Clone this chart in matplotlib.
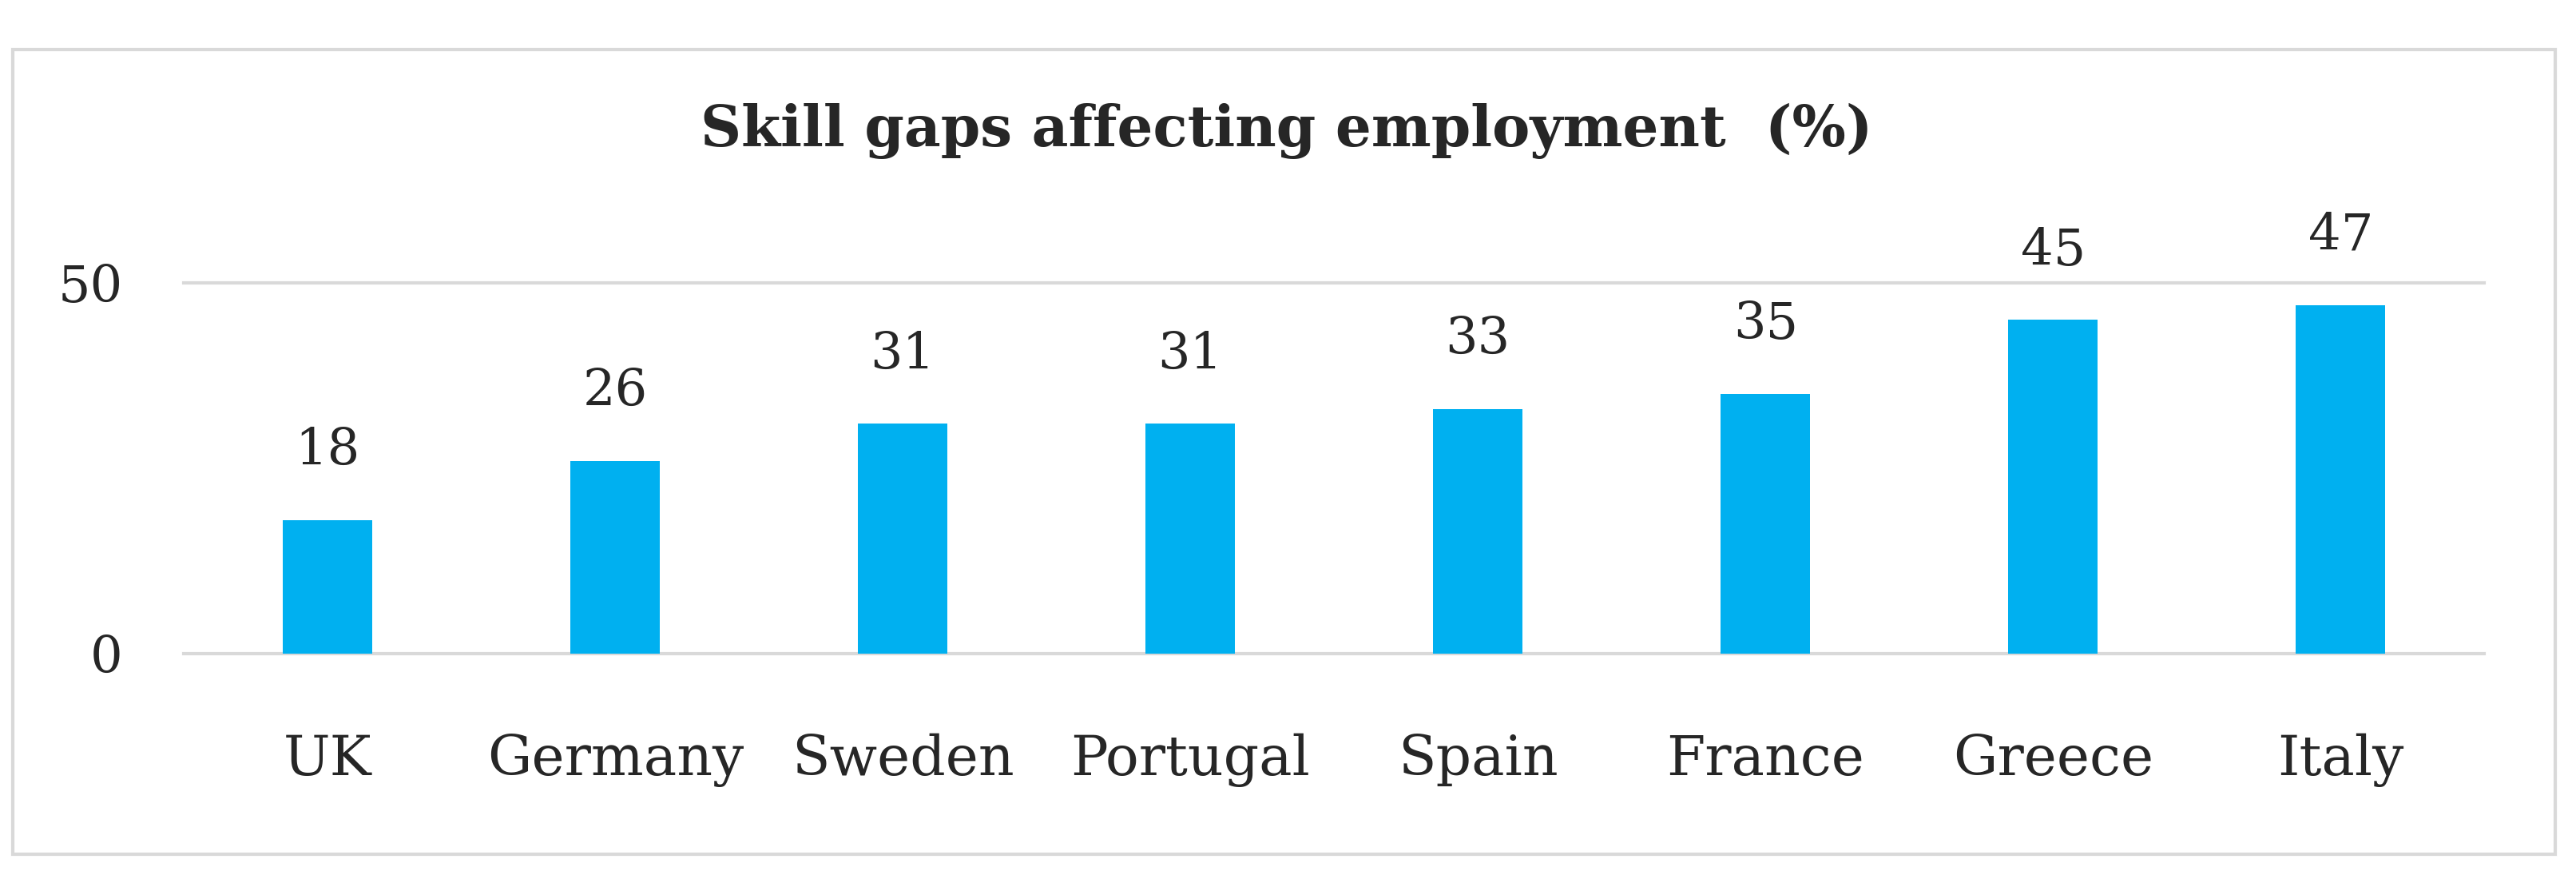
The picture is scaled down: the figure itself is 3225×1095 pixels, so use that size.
import matplotlib
matplotlib.use("Agg")
import matplotlib.pyplot as plt
from matplotlib.patches import Rectangle

countries = ["UK", "Germany", "Sweden", "Portugal", "Spain", "France", "Greece", "Italy"]
values = [18, 26, 31, 31, 33, 35, 45, 47]
yticks = [0, 50]
title = "Skill gaps affecting employment  (%)"

plt.rcParams['font.family'] = ['DejaVu Serif']
text_color = "#262626"
bar_color = "#00B0F0"
grid_color = "#D9D9D9"

fig = plt.figure(figsize=(32.25, 10.95), dpi=100)
fig.patch.set_facecolor("white")
fig.patches.append(Rectangle((0.005, 0.024), 0.987, 0.919, transform=fig.transFigure,
                             fill=False, edgecolor=grid_color, linewidth=3))

ax = fig.add_axes([0.0714, 0.253, 0.893, 0.424])
x = list(range(len(countries)))
ax.bar(x, values, width=0.31, color=bar_color, zorder=2)
ax.set_xlim(-0.5, len(countries) - 0.5)
ax.set_ylim(0, 50)
ax.set_yticks(yticks)
ax.set_yticklabels([str(t) for t in yticks])
ax.set_xticks(x)
ax.set_xticklabels(countries)
for t in yticks:
    ax.axhline(t, color=grid_color, linewidth=3, zorder=1, clip_on=False)
for s in ax.spines.values():
    s.set_visible(False)
ax.tick_params(axis='both', length=0, colors=text_color)
ax.tick_params(axis='x', pad=72, labelsize=50)
ax.tick_params(axis='y', pad=55, labelsize=46)

for xi, v in zip(x, values):
    ax.annotate(str(v), (xi, v), xytext=(0, 40), textcoords='offset points',
                ha='center', va='bottom', fontsize=46, color=text_color, clip_on=False)

fig.text(0.4995, 0.85, title, ha='center', va='center', fontsize=51,
         fontweight='bold', color=text_color)

fig.savefig("out.png", dpi=100, facecolor="white")
